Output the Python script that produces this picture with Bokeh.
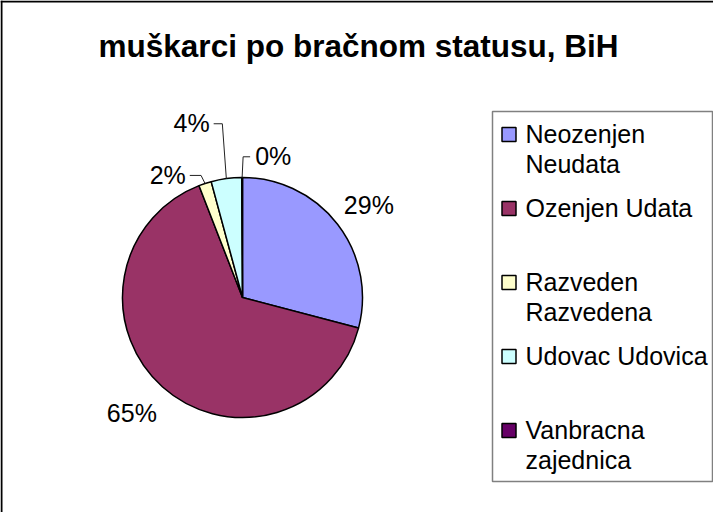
import numpy as np
from bokeh.plotting import figure
from bokeh.models import Range1d, Span, ColumnDataSource
from bokeh.core.properties import value
from bokeh.embed import file_html
from bokeh.resources import INLINE

# ---------------- data ----------------
title_text = "muškarci po bračnom statusu, BiH"
categories = ["Neozenjen Neudata", "Ozenjen Udata", "Razveden Razvedena",
              "Udovac Udovica", "Vanbracna zajednica"]
legend_lines = [["Neozenjen", "Neudata"], ["Ozenjen Udata"], ["Razveden", "Razvedena"],
                ["Udovac Udovica"], ["Vanbracna", "zajednica"]]
shares = [29.1, 65.0, 1.7, 4.1, 0.1]
pct_labels = ["29%", "65%", "2%", "4%", "0%"]
colors = ["#9999FF", "#993366", "#FFFFCC", "#CCFFFF", "#660066"]

# ---------------- layout (page pixel helpers) ----------------
W, H = 713, 512
FONT = "Liberation Sans"
MID = 0.3465  # em offset from baseline to the 'middle' anchor


def X(px):
    return px - 8


def Y(py):
    return 520 - py


p = figure(width=W, height=H, output_backend="svg", toolbar_location=None,
           x_range=Range1d(0, W), y_range=Range1d(0, H), min_border=0,
           x_axis_type=None, y_axis_type=None)
p.grid.visible = False
p.outline_line_color = None
p.background_fill_color = "white"
p.border_fill_color = "white"

# chart area border (top and left visible)
p.add_layout(Span(location=Y(9), dimension="width", line_color="black", line_width=2))
p.add_layout(Span(location=1, dimension="height", line_color="black", line_width=2))

# title
TFS = 31.5
p.text(x=[X(366)], y=[Y(64 - MID * TFS)], text=[title_text], text_font=value(FONT),
       text_font_style="bold", text_font_size=f"{TFS}px", text_align="center",
       text_baseline="middle", text_color="black")

# ---------------- pie ----------------
vals = np.array(shares, dtype=float)
frac = vals / vals.sum()
cum = np.concatenate([[0.0], np.cumsum(frac)])
start = np.pi / 2 - 2 * np.pi * cum[:-1]
end = np.pi / 2 - 2 * np.pi * cum[1:]
CXp, CYp, R = 250, 305, 120
src = ColumnDataSource(dict(start=start, end=end, color=colors, name=categories))
p.wedge(x=X(CXp), y=Y(CYp), radius=R, radius_units="screen",
        start_angle="start", end_angle="end", direction="clock",
        fill_color="color", line_color="black", line_width=1.5, source=src)

# data labels
label_r = [157, 160, 144, 182, 145]
label_dtheta = [1.2, 2.0, -13.1, -8.5, 12.4]
leader = [None, None, "left", "left", "right"]
FS = 25
cw = {"%": 0.889}
lx, ly, lt = [], [], []
seg_xs, seg_ys = [], []
for i, lab in enumerate(pct_labels):
    mid = 360 * (cum[i] + cum[i + 1]) / 2
    th = np.radians(mid + label_dtheta[i])
    cxl = CXp + label_r[i] * np.sin(th)
    cyl = CYp - label_r[i] * np.cos(th)
    lx.append(X(cxl))
    ly.append(Y(cyl + 9 - MID * FS))
    lt.append(lab)
    if leader[i]:
        wdt = sum(cw.get(ch, 0.556) for ch in lab) * FS
        tm = np.radians(mid)
        ptx = CXp + R * np.sin(tm)
        pty = CYp - R * np.cos(tm)
        if leader[i] == "left":
            sx = cxl + wdt / 2 + 4
            ex = ptx - 4
        else:
            sx = cxl - wdt / 2 - 5
            ex = ptx + 1
        seg_xs.append([X(sx), X(ex), X(ptx)])
        seg_ys.append([Y(cyl + 1), Y(cyl + 1), Y(pty)])

p.multi_line(xs=seg_xs, ys=seg_ys, line_color="#222222", line_width=1)
p.text(x=lx, y=ly, text=lt, text_font=value(FONT), text_font_size=f"{FS}px",
       text_align="center", text_baseline="middle", text_color="black")

# ---------------- legend ----------------
p.quad(left=[X(500)], right=[X(720)], top=[Y(119)], bottom=[Y(489)],
       fill_color="white", line_color="#808080", line_width=1.5)
slot = 74
first_base = 150
line_gap = 30
sq_x, sq_y, tx, ty, tt = [], [], [], [], []
for i, lines in enumerate(legend_lines):
    b = first_base + slot * i
    sq_x.append(X(516.5))
    sq_y.append(Y(b - 8))
    for j, ln in enumerate(lines):
        tx.append(X(533))
        ty.append(Y(b + j * line_gap - MID * FS))
        tt.append(ln)
p.scatter(x=sq_x, y=sq_y, marker="square", size=14, fill_color=colors,
          line_color="black", line_width=1.5)
p.text(x=tx, y=ty, text=tt, text_font=value(FONT), text_font_size=f"{FS}px",
       text_align="left", text_baseline="middle", text_color="black")

open("out.html", "w").write(file_html(p, INLINE))
